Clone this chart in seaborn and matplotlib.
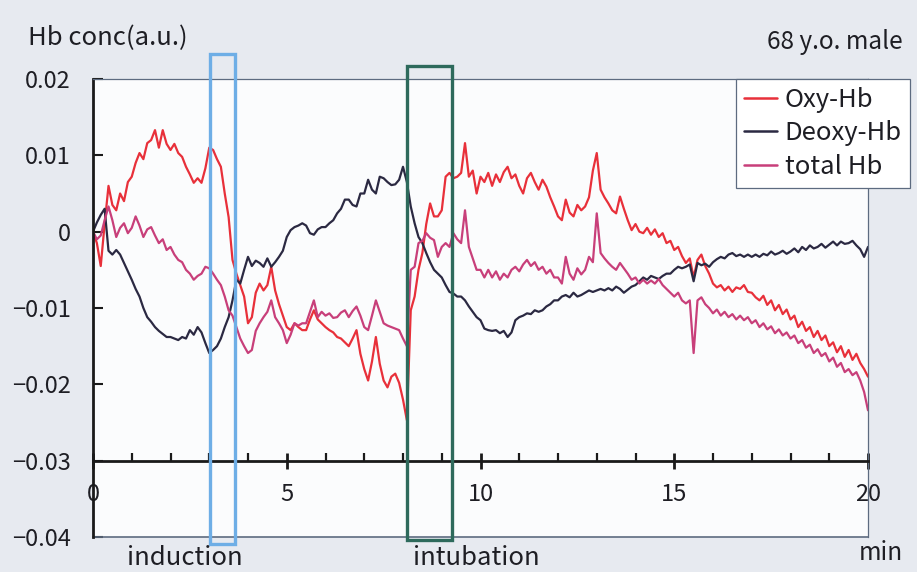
import numpy as np
import pandas as pd
import matplotlib.pyplot as plt
import matplotlib.ticker as mticker
from matplotlib.patches import Rectangle
import seaborn as sns

# Hb concentration change in 1e-3 a.u., one value every 0.1 min from 0 to 20 min
# (one row = one minute)
oxy_hb = [
    0.0, -1.5, -4.5, 1.0, 6.0, 3.5, 2.8, 5.0, 4.0, 6.5,
    7.2, 9.0, 10.3, 9.5, 11.6, 12.0, 13.3, 11.0, 13.3, 11.5,
    10.7, 11.5, 10.3, 9.8, 8.5, 7.5, 6.4, 7.0, 6.4, 8.3,
    11.0, 10.7, 9.5, 8.5, 5.0, 1.9, -3.7, -5.5, -7.0, -8.5,
    -12.0, -11.2, -8.0, -6.8, -7.7, -7.0, -4.6, -7.7, -9.5, -11.0,
    -12.5, -12.9, -12.0, -12.5, -12.9, -12.9, -11.5, -10.3, -11.5, -12.0,
    -12.5, -12.9, -13.2, -13.8, -14.0, -14.5, -15.0, -14.0, -12.9, -16.0,
    -18.0, -19.5, -17.0, -13.8, -17.3, -19.5, -20.4, -19.0, -18.6, -19.8,
    -22.0, -24.7, -10.3, -8.5, -5.0, -2.8, 1.0, 3.7, 2.0, 2.0,
    2.8, 7.2, 7.7, 7.0, 7.2, 7.7, 11.6, 7.2, 8.0, 5.0,
    7.2, 6.5, 7.7, 6.0, 7.5, 6.5, 7.8, 8.5, 7.0, 7.5,
    6.0, 5.0, 7.0, 7.7, 6.5, 5.5, 6.8, 5.9, 4.5, 3.3,
    2.0, 1.5, 4.2, 2.5, 2.0, 3.5, 2.8, 3.3, 4.5, 8.0,
    10.3, 5.5, 4.5, 3.7, 2.8, 2.4, 4.6, 3.0, 1.5, 0.2,
    1.0, 0.0, -0.2, 0.5, -0.4, 0.3, -0.7, -0.2, -1.5, -1.2,
    -2.4, -2.0, -3.2, -4.1, -3.5, -6.0, -3.7, -3.0, -4.5, -5.5,
    -6.8, -7.3, -7.0, -7.7, -7.2, -7.9, -7.3, -7.5, -7.0, -7.9,
    -8.0, -8.6, -9.0, -8.4, -9.6, -9.0, -10.3, -9.6, -10.8, -10.2,
    -11.5, -11.0, -12.5, -11.8, -13.0, -12.5, -13.8, -13.0, -14.2, -13.6,
    -15.0, -14.5, -15.8, -15.0, -16.4, -15.5, -16.8, -16.0, -17.2, -18.0,
    -19.0,
]
deoxy_hb = [
    0.0, 1.2, 2.2, 3.0, -2.5, -3.0, -2.4, -3.0, -4.1, -5.2,
    -6.3, -7.5, -8.5, -10.0, -11.2, -11.8, -12.5, -13.0, -13.4, -13.8,
    -13.8, -14.0, -14.2, -13.8, -14.0, -12.9, -13.5, -12.5, -13.2, -14.6,
    -15.9, -15.5, -15.0, -14.0, -12.5, -11.2, -9.0, -6.3, -6.8, -5.0,
    -3.3, -4.5, -3.8, -4.1, -4.6, -3.5, -4.6, -4.0, -3.3, -2.5,
    -0.7, 0.2, 0.6, 0.8, 1.1, 0.8, -0.2, -0.4, 0.3, 0.6,
    0.6, 1.1, 1.5, 2.4, 3.0, 4.2, 4.2, 3.5, 3.3, 5.0,
    5.0, 6.8, 5.5, 5.0, 7.2, 7.0, 6.5, 6.1, 6.2, 6.8,
    8.5, 6.5, 3.3, 1.1, -0.7, -1.5, -2.8, -4.0, -5.0, -5.5,
    -6.0, -7.0, -7.9, -8.1, -8.5, -8.5, -9.0, -9.8, -10.5, -11.2,
    -11.6, -12.7, -12.9, -13.0, -12.9, -13.3, -13.0, -13.8, -13.2, -11.6,
    -11.2, -11.0, -10.7, -10.8, -10.3, -10.5, -10.3, -9.8, -9.5, -9.0,
    -9.0, -8.5, -8.3, -8.6, -8.0, -8.5, -8.3, -8.0, -7.7, -7.9,
    -7.7, -7.5, -7.7, -7.4, -7.7, -7.2, -7.5, -8.0, -7.6, -7.2,
    -7.0, -6.5, -6.0, -6.3, -5.8, -6.0, -6.2, -5.8, -5.5, -5.5,
    -5.0, -4.6, -4.8, -4.6, -4.3, -6.5, -4.1, -4.4, -4.2, -4.6,
    -4.0, -3.6, -3.3, -3.5, -3.0, -2.8, -3.2, -3.0, -3.3, -3.0,
    -3.3, -3.0, -3.3, -2.9, -3.1, -2.6, -3.0, -2.8, -2.5, -2.9,
    -2.6, -2.2, -2.7, -2.0, -2.4, -1.8, -2.2, -2.0, -1.6, -2.1,
    -1.7, -1.3, -1.8, -1.3, -1.6, -1.5, -1.2, -1.8, -2.3, -3.3,
    -2.0,
]
total_hb = [
    0.0, -1.0, -0.5, 1.5, 3.3, 1.5, -0.7, 0.5, 1.1, -0.2,
    0.5, 2.0, 0.8, -0.7, 0.3, 0.6, -0.5, -1.5, -1.0, -2.4,
    -2.0, -3.0, -3.7, -4.0, -5.0, -5.5, -6.3, -5.8, -5.5, -4.6,
    -4.8, -5.5, -6.3, -7.0, -8.5, -10.3, -11.0, -12.5, -14.0, -15.0,
    -15.9, -15.5, -13.0, -12.0, -11.2, -10.5, -9.0, -11.2, -12.0, -12.9,
    -14.6, -13.5, -12.0, -12.3, -12.0, -12.0, -10.5, -9.0, -11.2, -10.5,
    -11.0, -10.7, -11.3, -11.2, -10.6, -10.3, -11.2, -10.4, -9.8, -11.0,
    -12.5, -12.9, -11.0, -9.0, -10.5, -12.0, -12.3, -12.5, -12.7, -12.9,
    -14.0, -15.0, -5.0, -4.6, -1.5, -1.2, -0.2, -0.8, -1.1, -3.3,
    -2.0, -1.5, -2.0, -0.2, -1.0, -1.5, 2.8, -2.0, -3.5, -5.0,
    -5.0, -6.0, -5.0, -6.0, -5.2, -6.3, -5.5, -6.0, -5.0, -4.6,
    -5.2, -4.3, -3.7, -4.5, -4.0, -5.0, -4.6, -5.5, -5.0, -6.0,
    -6.0, -6.8, -3.3, -5.5, -6.3, -4.8, -5.6, -5.0, -3.3, -4.0,
    2.4, -2.8, -3.5, -4.1, -4.6, -5.0, -4.1, -4.8, -5.5, -6.3,
    -6.0, -6.8, -6.3, -6.8, -6.4, -6.8, -6.2, -7.0, -7.5, -8.0,
    -8.5, -8.0, -9.0, -9.4, -9.0, -15.9, -9.0, -8.6, -9.5, -10.0,
    -10.7, -10.2, -11.0, -10.5, -11.2, -10.8, -11.5, -11.0, -11.6, -11.2,
    -12.0, -11.6, -12.5, -12.0, -12.8, -12.4, -13.3, -12.8, -13.6, -13.2,
    -14.0, -13.6, -14.6, -14.2, -15.2, -14.8, -15.9, -15.4, -16.3, -15.9,
    -17.0, -16.5, -17.7, -17.2, -18.4, -18.0, -18.8, -18.4, -19.5, -21.0,
    -23.4,
]
series_names = ["Oxy-Hb", "Deoxy-Hb", "total Hb"]
series_colors = ["#e8303a", "#2b2942", "#c83f7a"]

x_ticks = [0, 5, 10, 15, 20]
y_ticks = [0.02, 0.01, 0, -0.01, -0.02, -0.03, -0.04]

# marked events (start, end in min)
events = ["induction", "intubation"]
event_spans = [(3.02, 3.66), (8.10, 9.26)]
event_colors = ["#6eaee6", "#2e6a5c"]

time = np.arange(len(oxy_hb)) * 0.1
frames = []
for name, vals in zip(series_names, [oxy_hb, deoxy_hb, total_hb]):
    frames.append(pd.DataFrame({"min": time, "conc": np.array(vals) / 1000, "series": name}))
df = pd.concat(frames, ignore_index=True)

sns.set_style("white")
plt.rcParams["font.family"] = ["Noto Sans CJK JP", "DejaVu Sans"]
txt_col = "#1e1e24"

fig = plt.figure(figsize=(9.17, 5.72), dpi=100, facecolor="#e7eaf0")
ax = fig.add_axes([93 / 917, 1 - 537 / 572, 775 / 917, 458 / 572])
ax.set_facecolor("#fbfcfd")

sns.lineplot(data=df, x="min", y="conc", hue="series", hue_order=series_names,
             palette=dict(zip(series_names, series_colors)), estimator=None,
             sort=False, linewidth=1.6, ax=ax)

ax.set_xlim(0, 20)
ax.set_ylim(-0.04, 0.02)
ax.set_xlabel("")
ax.set_ylabel("")

# x axis sits at -0.03
ax.spines["bottom"].set_position(("data", -0.03))
ax.spines["bottom"].set_color("#1a1a1a")
ax.spines["bottom"].set_linewidth(2)
ax.spines["left"].set_color("#1a1a1a")
ax.spines["left"].set_linewidth(2)
for s in ["top", "right"]:
    ax.spines[s].set_color("#5d6b80")
    ax.spines[s].set_linewidth(0.9)
ax.axhline(-0.04, color="#5d6b80", lw=1.2, clip_on=False)

ax.set_xticks(x_ticks)
ax.xaxis.set_minor_locator(mticker.MultipleLocator(1))
ax.set_yticks(y_ticks)
ax.yaxis.set_major_formatter(
    mticker.FuncFormatter(lambda v, p: "0" if abs(v) < 1e-9 else f"{v:.2f}".replace("-", "\u2212")))
ax.tick_params(axis="x", which="major", direction="inout", length=12, width=2, bottom=True,
               color="#1a1a1a", labelsize=17, labelcolor=txt_col, pad=10)
ax.tick_params(axis="x", which="minor", direction="in", length=6, width=1.6, bottom=True,
               color="#1a1a1a")
ax.tick_params(axis="y", direction="in", length=7, width=1.5, color="#1a1a1a",
               labelsize=17, labelcolor=txt_col, pad=16, left=True)

# event boxes
tops = [0.0233, 0.0217]
bots = [-0.0409, -0.0404]
for (x0, x1), col, top, bot in zip(event_spans, event_colors, tops, bots):
    ax.add_patch(Rectangle((x0, bot), x1 - x0, top - bot, fill=False, edgecolor=col,
                           lw=2.4, clip_on=False, zorder=5))

leg = ax.get_legend()
handles = leg.legend_handles
labels = [t.get_text() for t in leg.texts]
leg.remove()
lg = ax.legend(handles, labels, loc="upper left", bbox_to_anchor=(736 / 917, 1 - 79 / 572),
               bbox_transform=fig.transFigure, fontsize=18.5, frameon=True, fancybox=False,
               edgecolor="#5d6b80", framealpha=1, handlelength=1.3, handletextpad=0.3,
               borderpad=0.3, labelspacing=0.3, borderaxespad=0)
lg.get_frame().set_linewidth(0.9)
for t in lg.get_texts():
    t.set_color(txt_col)
for h in lg.legend_handles:
    h.set_linewidth(1.8)

fig.text(28 / 917, 1 - 38 / 572, "Hb conc(a.u.)", fontsize=18.5, ha="left", va="center", color=txt_col)
fig.text(903 / 917, 1 - 42 / 572, "68 y.o. male", fontsize=17.5, ha="right", va="center", color=txt_col)
fig.text(903 / 917, 1 - 553 / 572, "min", fontsize=17.5, ha="right", va="center", color=txt_col)
for label, xc in zip(events, [185, 476]):
    fig.text(xc / 917, 1 - 558 / 572, label, fontsize=18.5, ha="center", va="center", color=txt_col)

fig.savefig("out.png", dpi=100, facecolor=fig.get_facecolor())
